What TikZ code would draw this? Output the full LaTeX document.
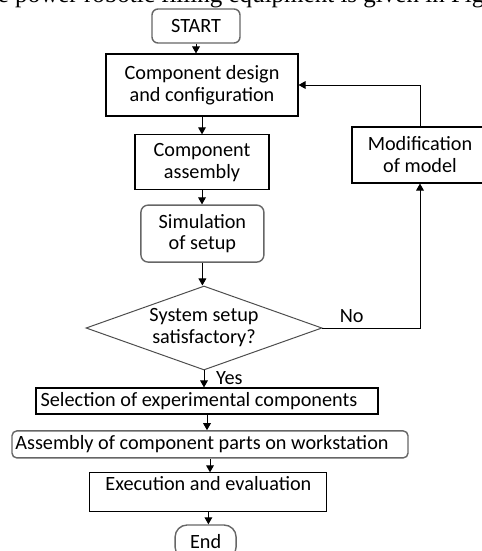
\documentclass[tikz,border=0pt]{standalone}
\usepackage{fontspec}
\setmainfont{Carlito}
\newfontfamily\headfont{Liberation Serif}
\usetikzlibrary{shapes.geometric,arrows.meta}

\tikzset{
  box/.style={draw, line width=0.8pt, align=center, font=\fontsize{14.4}{15.6}\selectfont},
  roundbox/.style={box, draw=black!60, line width=1pt, rounded corners=0.15cm},
  arr/.style={-{Triangle[length=5pt,width=5.5pt]}, line width=0.7pt},
}

\begin{document}
\begin{tikzpicture}
    \useasboundingbox (0,0) rectangle (12.025,-13.775);
    % cut-off line of the page above the figure
    \node[anchor=base west, inner sep=0, font=\headfont\fontsize{17.8}{20}\selectfont] at (-0.06,-0.06) (head) {e power robotic filling equipment is given in Fig};
    \node[roundbox, minimum width=2.2cm, minimum height=0.85cm] at (4.9,-0.65) (start) {START};
    \node[box, minimum width=4.8cm, minimum height=1.55cm] at (5.05,-2.125) (design) {Component design\\ and configuration};
    \node[box, minimum width=3.35cm, minimum height=1.375cm] at (5.05,-4.06) (compasm) {Component\\ assembly};
    \node[roundbox, rounded corners=0.18cm, minimum width=3.075cm, minimum height=1.425cm] at (5.06,-5.84) (sim) {Simulation\\ of setup};
    \node[diamond, aspect=2.81, draw=black!70, line width=0.7pt, align=center, inner sep=0, minimum width=5.9cm, minimum height=2.1cm, font=\fontsize{14.4}{15.6}\selectfont] at (5.1,-8.2) (check) {System setup\\ satisfactory?};
    \node[box, minimum width=3.4cm, minimum height=1.4cm] at (10.5,-3.875) (modif) {Modification\\ of model};
    \node[box, inner sep=0, minimum width=8.55cm, minimum height=0.65cm] at (5.175,-10.025) (select) {Selection of experimental components\hspace{0.4cm}};
    \node[roundbox, rounded corners=0.12cm, inner sep=0, minimum width=9.9cm, minimum height=0.675cm] at (5.25,-11.11) (asmparts) {Assembly of component parts on workstation\hspace{0.4cm}};
    \node[box, inner sep=0, minimum width=5.925cm, text height=0.45cm, text depth=0.525cm] at (5.21,-12.31) (exec) {Execution and evaluation};
    \node[roundbox, rounded corners=0.3cm, minimum width=1.525cm, minimum height=0.85cm] at (5.14,-13.55) (stop) {End};
    \draw[arr] (start.south) -- (start.south |- design.north);
    \draw[arr] (design.south) -- (design.south |- compasm.north);
    \draw[arr] (compasm.south) -- (compasm.south |- sim.north);
    \draw[arr] (sim.south) -- (sim.south |- check.north);
    \draw[arr] (check.east) -| node[pos=0.15, above, font=\fontsize{14.4}{15.6}\selectfont] {No} (modif.south);
    \draw[arr] (modif.north) |- (design.east);
    \draw[arr] (check.south) -- node[pos=0.45, right=5pt, font=\fontsize{14.4}{15.6}\selectfont] {Yes} (check.south |- select.north);
    \draw[arr] (select.south) -- (select.south |- asmparts.north);
    \draw[arr] (asmparts.south) -- (asmparts.south |- exec.north);
    \draw[arr] (exec.south) -- (exec.south |- stop.north);
\end{tikzpicture}
\end{document}
